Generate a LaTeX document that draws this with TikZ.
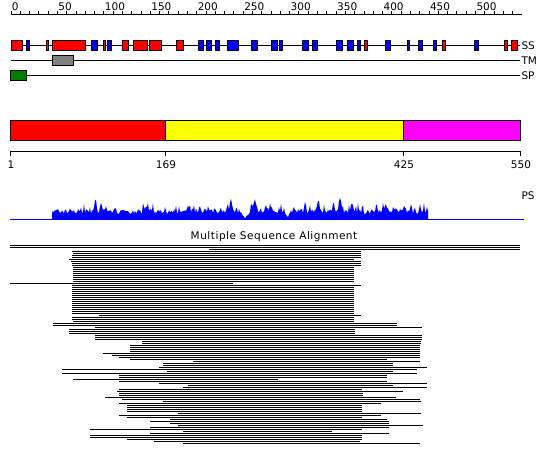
\documentclass[tikz,border=0pt]{standalone}
\usepackage{fontspec}
\setmainfont{DejaVu Sans}
\definecolor{HelixRed}  {RGB}{255,0,0}
\definecolor{StrandBlue}{RGB}{0,0,255}
\definecolor{TMGrey}    {RGB}{128,128,128}
\definecolor{SPGreen}   {RGB}{0,128,0}
\definecolor{DomYellow} {RGB}{255,255,0}
\definecolor{DomMagenta}{RGB}{255,0,255}
\usetikzlibrary{positioning}

\begin{document}
\begin{tikzpicture}[x=1pt,y=-1pt,line width=1pt,
    lbl/.style={font=\fontsize{10.5}{12}\selectfont,inner sep=0pt},
    featbox/.style={draw=black,line width=1pt}]
  \useasboundingbox (0,0) rectangle (550,465);
  %% Residue ruler, ticks every 10, labels every 50
  \draw (10.5,14.5) -- (522,14.5);
  \foreach \r in {0,10,...,540}
    \draw ({11+0.929*\r},11) -- ({11+0.929*\r},14.5);
  \foreach \r in {0,50,...,500}
    \node[lbl,anchor=base west] (ruler\r) at ({11.5+0.929*\r},10.3) {\r};
  %% SS track: helices red, strands blue
  \coordinate (ssend) at (520,45.5);
  \draw (10.5,45.5) -- (ssend);
  \foreach \a/\b in {11.5/22.5,46.5/48.5,52.5/85.5,103.5/105.5,122.5/128.5,
      133.5/147.5,149.5/161.5,176.5/183.5,364.5/367.5,442.5/445.5,
      504.5/507.5,511.5/517.5}
    \draw[featbox,fill=HelixRed] (\a,40.5) rectangle (\b,50.5);
  \foreach \a/\b in {26.5/29.5,91.5/97.5,107.5/111.5,198.5/203.5,206.5/211.5,
      215.5/219.5,227.5/238.5,251.5/257.5,271.5/277.5,279.5/282.5,
      302.5/308.5,312.5/317.5,336.5/342.5,347.5/353.5,357.5/360.5,
      385.5/390.5,407.5/409.5,418.5/422.5,433.5/436.5,474.5/478.5}
    \draw[featbox,fill=StrandBlue] (\a,40.5) rectangle (\b,50.5);
  \node[lbl,right=1pt of ssend] (sslbl) {SS};
  %% TM track
  \coordinate (tmend) at (520,60.5);
  \draw (10.5,60.5) -- (tmend);
  \draw[featbox,fill=TMGrey] (52.5,55.5) rectangle (73.5,65.5);
  \node[lbl,right=1pt of tmend] (tmlbl) {TM};
  %% SP track
  \coordinate (spend) at (520,75.5);
  \draw (10.5,75.5) -- (spend);
  \draw[featbox,fill=SPGreen] (10.5,70.5) rectangle (26.5,80.5);
  \node[lbl,right=1pt of spend] (splbl) {SP};
  %% Domain bar
  \draw[featbox,fill=HelixRed]   (10.5,120.5)  rectangle (165.5,140.5);
  \draw[featbox,fill=DomYellow]  (165.5,120.5) rectangle (403.5,140.5);
  \draw[featbox,fill=DomMagenta] (403.5,120.5) rectangle (520.5,140.5);
  %% Domain boundaries
  \draw (10.5,151.5) -- (520.5,151.5);
  \foreach \x/\t in {10.5/1,165.5/169,403.5/425,520.5/550} {
    \draw (\x,151.5) -- (\x,156);
    \node[lbl,anchor=base] (dom\t) at (\x+0.5,169) {\t};
  }
  %% PS profile
  \pgfmathsetseed{11}
  \fill[StrandBlue] (52,219.5) \foreach \x in {52,...,428} {
      -- (\x,{219.5-((5.5+5*rnd+7*rnd^4)*(1-0.85*max(0,1-abs(\x-245)/6)
           -0.75*max(0,1-abs(\x-288)/3))
         +13*max(0,1-abs(\x-231)/2.5)+14*max(0,1-abs(\x-255)/2.5)
         +7*max(0,1-abs(\x-266)/2)+6*max(0,1-abs(\x-271)/2)
         +14*max(0,1-abs(\x-340)/2.5)+10*max(0,1-abs(\x-352)/2.5)
         +9*max(0,1-abs(\x-318)/2.5)+6*max(0,1-abs(\x-305)/2)
         +8*max(0,1-abs(\x-95)/2)+5*max(0,1-abs(\x-101)/2)
         +4*max(0,1-abs(\x-188)/2)+5*max(0,1-abs(\x-405)/2))})
    } -- (428,219.5) -- cycle;
  \draw[StrandBlue] (10,219.5) -- (524,219.5);
  \node[lbl,anchor=base west] (pslbl) at (521,200) {PS};
  %% Multiple sequence alignment
  \node[lbl,anchor=base] (msatitle) at (274,240)
       {\addfontfeatures{LetterSpace=5}Multiple Sequence Alignment};
  \foreach \s/\e [count=\i from 0] in {10/520,10/520,209/520,72/361,73/361,
      72/361,72/361,69/354,71/361,72/361,72/361,73/354,73/354,73/354,73/354,
      73/354,73/354,73/354,73/354,10/233,72/361,72/354,72/354,72/354,72/354,
      72/354,72/354,72/354,72/354,72/354,72/354,72/354,72/354,72/354,72/354,
      99/361,72/354,72/354,73/354,53/397,53/397,95/422,69/355,69/355,69/355,
      95/422,95/422,95/422,142/421,142/421,130/420,130/420,130/420,130/420,
      103/420,112/420,119/420,130/387,193/420,163/393,163/393,159/427,62/417,
      167/393,62/417,119/387,119/387,73/278,119/387,159/427,188/393,183/427,
      119/362,117/403,119/363,119/363,105/396,122/420,163/421,119/381,127/362,
      127/362,127/362,127/362,178/421,119/381,127/362,170/387,150/389,170/389,
      178/423,150/389,90/362,183/332,150/389,90/362,90/362,127/362,154/360,
      183/420}
    \draw (\s,{245.5+2*\i}) -- (\e,{245.5+2*\i});
\end{tikzpicture}
\end{document}
